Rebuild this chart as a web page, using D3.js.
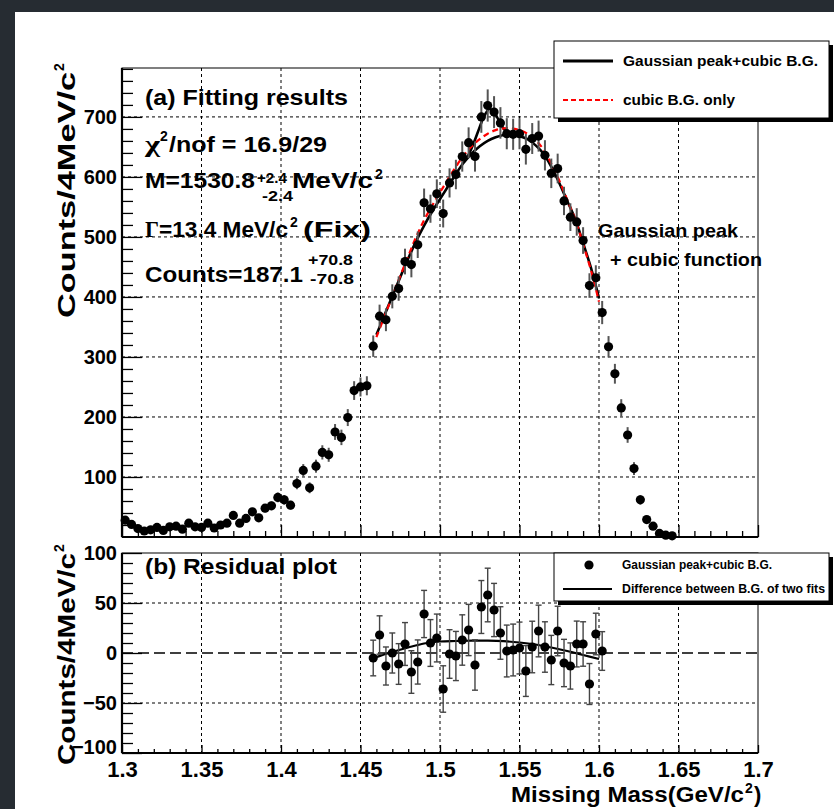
<!DOCTYPE html>
<html><head><meta charset="utf-8">
<script src="https://cdn.jsdelivr.net/npm/d3@7/dist/d3.min.js"></script>
<style>
body{margin:0;background:#fff;}
svg{display:block;}
text{font-family:"Liberation Sans",Arial,Helvetica,sans-serif;font-weight:bold;fill:#000;}
</style>
</head><body>
<svg id="c" width="834" height="809"></svg>
<script>
// ---------------- DATA ----------------
const binStart = 1.302, binWidth = 0.004;          // histogram bin centres (GeV/c^2)
const counts = [28,21,14,10,12,16,11,17,18,13,23,17,16,23,15,20,23,36,23,31,42,32,48,52,66,62,53,89,111,82,118,141,137,175,166,199,244,250,252,
  318,368,362,401,414,459,454,487,557,547,572,539,590,604,634,657,634,700,719,708,690,
  672,671,672,646,664,668,636,606,614,560,533,525,494,419,432,374,317,272,215,170,114,62,29,18,6,3,2];
const residStart = 39;   // first bin index of residual plot
const residuals = [-5,18,-13,0,-11,9,-19,-9,39,10,15,-36,-1,-3,13,23,-12,46,58,43,20,2,3,5,-18,6,22,6,-7,22,-10,-13,9,9,-31,19,2];

// cubic B.G. only fit (red dashed)
const cubicX = [1.46,1.465,1.47,1.475,1.48,1.485,1.49,1.495,1.5,1.505,1.51,1.515,1.52,1.525,1.53,1.535,1.54,1.545,1.55,1.555,1.56,1.565,1.57,1.575,1.58,1.585,1.59,1.595,1.6];
const cubicY = [333,367,401,435,468,500,528,552,574,596,617,636,651,663,672,678,681,681,678,672,662,646,622,594,562,530,488,444,392];
// cubic B.G. part of the Gaussian+cubic fit (black)
const fitBgX = [1.46,1.465,1.47,1.475,1.48,1.485,1.49,1.495,1.5,1.505,1.51,1.515,1.52,1.525,1.53,1.535,1.54,1.545,1.55,1.555,1.56,1.565,1.57,1.575,1.58,1.585,1.59,1.595,1.6];
const fitBgY = [337,369,401,433,464,493,519,542,563,584,605,624,639,651,660,666,670,671,668,663,653,639,617,590,560,530,490,448,398];
// Gaussian peak + cubic B.G. around the peak (black)
const peakX = [1.515,1.518,1.521,1.524,1.527,1.529,1.531,1.533,1.535,1.537,1.539,1.542,1.546];
const peakY = [625,637,655,676,697,707,713,711,704,694,684,675,671];
// Difference between B.G. of two fits (residual panel)
const diffX = [1.458,1.46,1.47,1.48,1.49,1.5,1.51,1.52,1.53,1.54,1.55,1.56,1.57,1.58,1.59,1.6];
const diffY = [-5,-4,1,5.5,9.5,11.5,12,12.3,12.3,11.8,10.5,8.5,5.5,2,-2,-6];

const xTicks = [1.3,1.35,1.4,1.45,1.5,1.55,1.6,1.65,1.7];
const xTickLabels = ["1.3","1.35","1.4","1.45","1.5","1.55","1.6","1.65","1.7"];
const topYTicks = [100,200,300,400,500,600,700];
const botYTicks = [-100,-50,0,50,100];

// ---------------- DRAW ----------------
const svg = d3.select("#c");
svg.append("rect").attr("width",834).attr("height",809).attr("fill","#262c32");
svg.append("rect").attr("x",15).attr("y",12).attr("width",819).attr("height",797).attr("fill","#fff");

const x = d3.scaleLinear().domain([1.3,1.7]).range([122,758]);
const yTop = d3.scaleLinear().domain([0,781.5]).range([537,68]);
const yBot = d3.scaleLinear().domain([-100,100]).range([753,553]);
const binX = counts.map((c,i)=>binStart + i*binWidth);

function minorVals(lo,hi,step,majors){
  const out=[]; const n=Math.round((hi-lo)/step);
  for(let i=0;i<=n;i++){const v=+(lo+i*step).toFixed(6); if(!majors.some(m=>Math.abs(m-v)<1e-9)) out.push(v);} return out;
}

// ---- grids ----
const gridX = xTicks.slice(1,-1);
function vgrid(y0,y1){
  svg.append("g").selectAll("line").data(gridX).join("line")
    .attr("x1",d=>x(d)).attr("x2",d=>x(d)).attr("y1",y0).attr("y2",y1)
    .attr("stroke","#000").attr("stroke-width",1).attr("stroke-dasharray","3,3");
}
vgrid(yTop(781.5),yTop(0)); vgrid(yBot(100),yBot(-100));
svg.append("g").selectAll("line").data(topYTicks).join("line")
  .attr("x1",x(1.3)).attr("x2",x(1.7)).attr("y1",d=>yTop(d)).attr("y2",d=>yTop(d))
  .attr("stroke","#000").attr("stroke-width",1).attr("stroke-dasharray","3,3");
svg.append("g").selectAll("line").data([50,-50]).join("line")
  .attr("x1",x(1.3)).attr("x2",x(1.7)).attr("y1",d=>yBot(d)).attr("y2",d=>yBot(d))
  .attr("stroke","#000").attr("stroke-width",1).attr("stroke-dasharray","3,3");
svg.append("line").attr("x1",x(1.3)).attr("x2",x(1.7)).attr("y1",yBot(0)).attr("y2",yBot(0))
  .attr("stroke","#000").attr("stroke-width",1.3).attr("stroke-dasharray","11,5");

// ---- axes ----
function styleAxis(g){ g.select(".domain").remove(); g.selectAll(".tick line").attr("stroke","#000").attr("stroke-width",1.3); }
const fmtY = d3.format("d");
// top panel
svg.append("g").attr("transform","translate(122,0)")
  .call(d3.axisLeft(yTop).tickValues(topYTicks).tickSizeInner(-20).tickSizeOuter(0).tickPadding(5).tickFormat(fmtY))
  .call(styleAxis).selectAll("text").attr("font-size",20);
svg.append("g").attr("transform","translate(122,0)")
  .call(d3.axisLeft(yTop).tickValues(minorVals(0,780,20,topYTicks.concat([0]))).tickSize(-11).tickFormat(""))
  .call(styleAxis);
svg.append("g").attr("transform","translate(0,537)")
  .call(d3.axisBottom(x).tickValues(xTicks).tickSize(-12).tickFormat(""))
  .call(styleAxis);
svg.append("g").attr("transform","translate(0,537)")
  .call(d3.axisBottom(x).tickValues(minorVals(1.3,1.7,0.01,xTicks)).tickSize(-6).tickFormat(""))
  .call(styleAxis);
// bottom panel
const botAx = svg.append("g").attr("transform","translate(122,0)")
  .call(d3.axisLeft(yBot).tickValues(botYTicks).tickSizeInner(-20).tickSizeOuter(0).tickPadding(5).tickFormat(fmtY))
  .call(styleAxis);
botAx.selectAll("text").attr("font-size",20).attr("dy",d=>d===-100?"0.02em":"0.32em");
svg.append("g").attr("transform","translate(122,0)")
  .call(d3.axisLeft(yBot).tickValues(minorVals(-100,100,10,botYTicks)).tickSize(-11).tickFormat(""))
  .call(styleAxis);
svg.append("g").attr("transform","translate(0,753)")
  .call(d3.axisBottom(x).tickValues(xTicks).tickSizeInner(-8).tickSizeOuter(0).tickPadding(8).tickFormat((d,i)=>xTickLabels[i]))
  .call(styleAxis).selectAll("text").attr("font-size",22);
svg.append("g").attr("transform","translate(0,753)")
  .call(d3.axisBottom(x).tickValues(minorVals(1.3,1.7,0.01,xTicks)).tickSize(-4).tickFormat(""))
  .call(styleAxis);

// frames
[[yTop(781.5),yTop(0)],[yBot(100),yBot(-100)]].forEach(([t,b])=>{
  svg.append("rect").attr("x",x(1.3)).attr("y",t).attr("width",x(1.7)-x(1.3)).attr("height",b-t)
    .attr("fill","none").attr("stroke","#000").attr("stroke-width",1);
  svg.append("line").attr("x1",x(1.3)).attr("x2",x(1.3)).attr("y1",t).attr("y2",b).attr("stroke","#000").attr("stroke-width",2.2);
  svg.append("line").attr("x1",x(1.3)).attr("x2",x(1.7)).attr("y1",b).attr("y2",b).attr("stroke","#000").attr("stroke-width",2.2);
});

// ---- curves (top) ----
const lineTop = d3.line().x(d=>x(d[0])).y(d=>yTop(d[1])).curve(d3.curveCatmullRom);
svg.append("path").datum(fitBgX.map((v,i)=>[v,fitBgY[i]])).attr("d",lineTop)
  .attr("fill","none").attr("stroke","#000").attr("stroke-width",2.6);
svg.append("path").datum(peakX.map((v,i)=>[v,peakY[i]])).attr("d",lineTop)
  .attr("fill","none").attr("stroke","#000").attr("stroke-width",2.6);
svg.append("path").datum(cubicX.map((v,i)=>[v,cubicY[i]])).attr("d",lineTop)
  .attr("fill","none").attr("stroke","#f00").attr("stroke-width",2.2).attr("stroke-dasharray","6,4");

// ---- data points (top) ----
const pts = counts.map((c,i)=>({m:binX[i],c}));
svg.append("g").selectAll("line").data(pts).join("line")
  .attr("x1",d=>x(d.m)).attr("x2",d=>x(d.m))
  .attr("y1",d=>yTop(d.c+Math.sqrt(d.c))).attr("y2",d=>yTop(Math.max(0,d.c-Math.sqrt(d.c))))
  .attr("stroke","#555").attr("stroke-width",2);
svg.append("g").selectAll("circle").data(pts).join("circle")
  .attr("cx",d=>x(d.m)).attr("cy",d=>yTop(d.c)).attr("r",4.6).attr("fill","#000");

// ---- residuals (bottom) ----
const lineBot = d3.line().x(d=>x(d[0])).y(d=>yBot(d[1])).curve(d3.curveCatmullRom);
svg.append("path").datum(diffX.map((v,i)=>[v,diffY[i]])).attr("d",lineBot)
  .attr("fill","none").attr("stroke","#000").attr("stroke-width",2.2);
const rp = residuals.map((r,i)=>({m:binX[residStart+i], r, e:Math.sqrt(counts[residStart+i])}));
const eb = svg.append("g").attr("stroke","#444").attr("stroke-width",1.4);
eb.selectAll(".v").data(rp).join("line").attr("x1",d=>x(d.m)).attr("x2",d=>x(d.m))
  .attr("y1",d=>yBot(d.r+d.e)).attr("y2",d=>yBot(d.r-d.e));
eb.selectAll(".t").data(rp).join("line").attr("x1",d=>x(d.m)-3).attr("x2",d=>x(d.m)+3)
  .attr("y1",d=>yBot(d.r+d.e)).attr("y2",d=>yBot(d.r+d.e));
eb.selectAll(".b").data(rp).join("line").attr("x1",d=>x(d.m)-3).attr("x2",d=>x(d.m)+3)
  .attr("y1",d=>yBot(d.r-d.e)).attr("y2",d=>yBot(d.r-d.e));
svg.append("g").selectAll("circle").data(rp).join("circle")
  .attr("cx",d=>x(d.m)).attr("cy",d=>yBot(d.r)).attr("r",4.6).attr("fill","#000");

// ---- text helpers ----
function T(str,xp,yp,size,len,anchor){
  const t = svg.append("text").attr("x",xp).attr("y",yp).attr("font-size",size).text(str);
  if(len){ t.attr("textLength",len).attr("lengthAdjust","spacingAndGlyphs"); }
  if(anchor) t.attr("text-anchor",anchor);
  return t;
}
// annotations top panel
T("(a) Fitting results",145,105,22,203);
T("\u03c7",145,152,24,15).style("font-family","'Liberation Serif',serif");
T("2",160,141,14);
T("/nof = 16.9/29",169,152,22,158);
T("M=1530.8",145,188,22,110);
T("+2.4",257,183,14,30);
T("-2.4",262,201,14,31);
T("MeV/c",292,188,22,81);
T("2",375,179,14);
T("\u0393",145,237,23,14).style("font-family","'Liberation Serif',serif");
T("=13.4 MeV/c",159,237,22,129);
T("2",290,227,14);
T("(Fix)",303,237,22,68);
T("Counts=187.1",145,282,22,158);
T("+70.8",308,265,14,45);
T("-70.8",310,284,14,44);
T("Gaussian peak",598,237,19,140);
T("+ cubic function",610,266,19,152);

// axis titles
T("Missing Mass(GeV/c",511,802,22,233);
T("2",745,793,14);
T(")",754,802,22);
function yTitle(yEnd,len){
  const g = svg.append("g").attr("transform",`translate(75,${yEnd}) rotate(-90)`);
  g.append("text").attr("x",-10).attr("y",0).attr("text-anchor","end").attr("font-size",24)
    .attr("textLength",len).attr("lengthAdjust","spacingAndGlyphs").text("Counts/4MeV/c");
  g.append("text").attr("x",-9).attr("y",-11).attr("font-size",14).text("2");
}
yTitle(62,246); yTitle(543,212);
svg.append("text").attr("x",145).attr("y",574).attr("font-size",22).attr("textLength",192).attr("lengthAdjust","spacingAndGlyphs").text("(b) Residual plot");

// ---- legends ----
function box(x0,y0,w,h){
  svg.append("rect").attr("x",x0+4).attr("y",y0+4).attr("width",w).attr("height",h).attr("fill","#000");
  svg.append("rect").attr("x",x0).attr("y",y0).attr("width",w).attr("height",h).attr("fill","#fff").attr("stroke","#000").attr("stroke-width",1);
}
box(554,41,275,77);
svg.append("line").attr("x1",563).attr("x2",613).attr("y1",61).attr("y2",61).attr("stroke","#000").attr("stroke-width",3);
T("Gaussian peak+cubic B.G.",623,66,15,195);
svg.append("line").attr("x1",563).attr("x2",613).attr("y1",100).attr("y2",100).attr("stroke","#f00").attr("stroke-width",2).attr("stroke-dasharray","5,3");
T("cubic B.G. only",623,105,15,112);

box(554,553,275,48);
svg.append("circle").attr("cx",589).attr("cy",565).attr("r",4.6).attr("fill","#000");
T("Gaussian peak+cubic B.G.",622,569,12,150);
svg.append("line").attr("x1",563).attr("x2",612).attr("y1",589).attr("y2",589).attr("stroke","#000").attr("stroke-width",2);
T("Difference between B.G. of two fits",622,593,12,203);
</script>
</body></html>
